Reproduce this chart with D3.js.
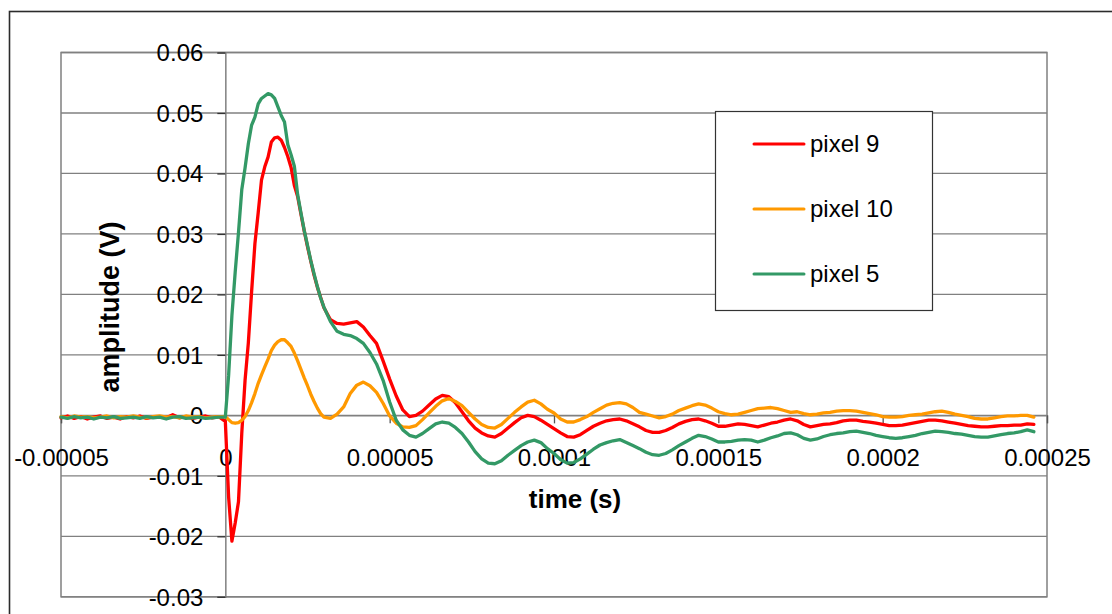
<!DOCTYPE html>
<html>
<head>
<meta charset="utf-8">
<script src="https://cdn.jsdelivr.net/npm/d3@7/dist/d3.min.js"></script>
<style>
  html, body { margin: 0; padding: 0; background: #fff; }
  svg { display: block; font-family: "Liberation Sans", Arial, sans-serif; }
</style>
</head>
<body>
<svg id="chart" width="1112" height="614"></svg>
<script>
// Sample times in microseconds
const timeUs = [
  -50,-48,-46,-44,-42,-40,-38,-36,-34,-32,-30,-28,-26,-24,-22,-20,-18,-16,-14,-12,-10,-8,-6,-4,-2,
  0,1,2,3,4,5,6,7,8,9,10,11,12,13,14,15,16,17,18,19,20,21,22,23,24,25,26,27,28,29,30,
  32,34,36,38,40,42,44,46,48,50,
  52,54,56,58,60,62,64,66,68,70,
  72,74,76,78,80,82,84,86,88,90,
  92,94,96,98,100,102,104,106,108,110,
  112,114,116,118,120,122,124,126,128,130,
  132,134,136,138,140,142,144,146,148,150,
  152,154,156,158,160,162,164,166,168,170,
  172,174,176,178,180,182,184,186,188,190,
  192,194,196,198,200,202,204,206,208,210,
  212,214,216,218,220,222,224,226,228,230,
  232,234,236,238,240,242,244,246
];

// Amplitude (V) of each pixel at the sample times above
const pixel9 = [
  -0.0004,-0.0001,-0.0005,-0.0002,-0.0006,-0.0003,-0.0001,-0.0005,-0.0003,-0.0006,
  -0.0002,-0.0004,-0.0001,-0.0005,-0.0003,-0.0002,-0.0004,0.0001,-0.0004,-0.0002,
  -0.0005,-0.0003,-0.0001,-0.0004,-0.0002,
  -0.001,-0.0135,-0.0208,-0.0178,-0.0143,-0.003,0.0058,0.012,0.0205,0.0284,
  0.0335,0.0389,0.0411,0.0427,0.0452,0.0459,0.046,0.0455,0.0443,0.0428,
  0.041,0.038,0.0362,0.0333,0.0305,0.0279,0.0255,0.0232,0.0212,0.0195,0.0178,
  0.0158,0.0152,0.0151,0.0153,0.0155,0.0146,0.0132,0.0119,0.009,0.006,
  0.0032,0.0009,-0.0002,0,0.0007,0.0017,0.0027,0.0033,0.0031,0.0021,
  0.0006,-0.0009,-0.0021,-0.0029,-0.0034,-0.0036,-0.003,-0.0021,-0.0012,-0.0004,
  0,-0.0002,-0.0008,-0.0015,-0.0022,-0.0029,-0.0035,-0.0036,-0.0032,-0.0025,
  -0.0018,-0.0013,-0.0009,-0.0007,-0.0006,-0.0009,-0.0014,-0.0019,-0.0025,-0.0028,
  -0.0028,-0.0025,-0.002,-0.0014,-0.001,-0.0007,-0.0006,-0.0009,-0.0013,-0.0018,
  -0.0018,-0.0016,-0.0014,-0.0015,-0.0017,-0.0019,-0.0016,-0.0013,-0.0011,-0.0008,
  -0.0006,-0.0009,-0.0015,-0.0019,-0.0017,-0.0015,-0.0014,-0.0012,-0.0009,-0.0008,
  -0.0008,-0.001,-0.0011,-0.0013,-0.0015,-0.0017,-0.0017,-0.0016,-0.0014,-0.0012,
  -0.001,-0.0008,-0.0008,-0.0009,-0.0011,-0.0013,-0.0015,-0.0017,-0.0018,-0.0019,
  -0.0019,-0.0018,-0.0017,-0.0017,-0.0016,-0.0016,-0.0014,-0.0015
];
const pixel10 = [
  -0.0002,-0.0004,-0.0001,-0.0003,-0.0002,-0.0004,-0.0003,-0.0001,-0.0004,-0.0002,
  -0.0003,-0.0001,-0.0003,-0.0004,-0.0002,-0.0001,-0.0003,-0.0002,-0.0004,-0.0001,
  -0.0003,-0.0002,-0.0004,-0.0003,-0.0002,
  -0.0002,-0.0007,-0.0012,-0.0013,-0.0012,-0.0008,-0.0002,0.0008,0.0021,0.0036,
  0.0053,0.0067,0.008,0.0093,0.0107,0.0116,0.0122,0.0125,0.0125,0.012,
  0.0114,0.0103,0.009,0.0076,0.0062,0.0049,0.0035,0.0023,0.0012,0.0003,-0.0003,
  -0.0005,0.0002,0.0014,0.0036,0.005,0.0055,0.0049,0.0038,0.002,-0.0001,
  -0.0013,-0.0019,-0.002,-0.0017,-0.0007,0.0004,0.0015,0.0024,0.0028,0.0023,
  0.0016,0.0005,-0.0006,-0.0015,-0.002,-0.0021,-0.0015,-0.0005,0.0005,0.0014,
  0.0022,0.0025,0.0019,0.001,0.0004,-0.0006,-0.0011,-0.0011,-0.0007,-0.0002,
  0.0005,0.0011,0.0017,0.002,0.0021,0.0019,0.0013,0.0005,0.0002,-0.0001,
  -0.0004,-0.0002,0.0002,0.0008,0.0012,0.0016,0.0019,0.0017,0.0012,0.0006,
  0.0003,0.0001,0.0002,0.0005,0.0008,0.0011,0.0012,0.0013,0.0011,0.0008,
  0.0005,0.0006,0.0003,0.0001,0.0002,0.0004,0.0005,0.0007,0.0008,0.0008,
  0.0007,0.0005,0.0003,0.0001,-0.0002,-0.0003,-0.0003,-0.0002,0,0.0001,
  0.0002,0.0004,0.0006,0.0007,0.0005,0.0002,0,-0.0002,-0.0005,-0.0006,
  -0.0006,-0.0004,-0.0002,-0.0001,-0.0001,0,0,-0.0003
];
const pixel5 = [
  -0.0003,-0.0005,-0.0002,-0.0004,-0.0003,-0.0006,-0.0003,-0.0004,-0.0002,-0.0005,
  -0.0004,-0.0003,-0.0005,-0.0002,-0.0004,-0.0003,-0.0006,-0.0003,-0.0002,-0.0005,
  -0.0004,-0.0003,-0.0005,-0.0004,-0.0003,
  -0.0003,0.0066,0.0165,0.0237,0.0302,0.0373,0.0409,0.0449,0.048,0.0493,
  0.0515,0.0524,0.0528,0.0532,0.053,0.0524,0.051,0.0496,0.0485,0.0448,
  0.0431,0.0412,0.0365,0.0335,0.0306,0.0281,0.0256,0.0234,0.0213,0.0194,0.0179,
  0.0155,0.0139,0.0134,0.0132,0.0127,0.0119,0.0104,0.0085,0.0058,0.0022,
  -0.0008,-0.0024,-0.0033,-0.0036,-0.003,-0.0022,-0.0014,-0.0011,-0.0013,-0.002,
  -0.003,-0.0044,-0.006,-0.0072,-0.0079,-0.008,-0.0075,-0.0066,-0.0058,-0.005,
  -0.0044,-0.0041,-0.0045,-0.0055,-0.0063,-0.0073,-0.0079,-0.0078,-0.0072,-0.0064,
  -0.0056,-0.0049,-0.0045,-0.0042,-0.004,-0.0045,-0.005,-0.0055,-0.0061,-0.0065,
  -0.0066,-0.0063,-0.0057,-0.005,-0.0044,-0.0038,-0.0033,-0.0035,-0.0039,-0.0044,
  -0.0044,-0.0043,-0.0041,-0.004,-0.0041,-0.0044,-0.0041,-0.0037,-0.0034,-0.003,
  -0.0029,-0.0032,-0.0038,-0.0041,-0.0039,-0.0035,-0.0032,-0.003,-0.0029,-0.0027,
  -0.0026,-0.0028,-0.003,-0.0033,-0.0035,-0.0037,-0.0038,-0.0037,-0.0035,-0.0033,
  -0.003,-0.0028,-0.0026,-0.0027,-0.0028,-0.003,-0.0031,-0.0033,-0.0035,-0.0036,
  -0.0036,-0.0034,-0.0032,-0.003,-0.0029,-0.0027,-0.0024,-0.0027
];

const seriesNames = ["pixel 9", "pixel 10", "pixel 5"];
const seriesColors = ["#ff0000", "#ff9900", "#339966"];

const xTicks = [-0.00005, 0, 0.00005, 0.0001, 0.00015, 0.0002, 0.00025];
const xTickLabels = ["-0.00005", "0", "0.00005", "0.0001", "0.00015", "0.0002", "0.00025"];
const yTicks = [-0.03, -0.02, -0.01, 0, 0.01, 0.02, 0.03, 0.04, 0.05, 0.06];
const yTickLabels = ["-0.03", "-0.02", "-0.01", "0", "0.01", "0.02", "0.03", "0.04", "0.05", "0.06"];

const xTitle = "time (s)";
const yTitle = "amplitude (V)";

// ---- layout ----
const svg = d3.select("#chart");
const plot = { left: 61, right: 1047, top: 52.5, bottom: 596.8 };
const grid = "#808080";

const x = d3.scaleLinear().domain([-0.00005, 0.00025]).range([plot.left, plot.right]);
const y = d3.scaleLinear().domain([-0.03, 0.06]).range([plot.bottom, plot.top]);

// outer chart frame (runs past the visible page on the right and bottom)
svg.append("rect")
  .attr("x", 9.5).attr("y", 11.5).attr("width", 1200).attr("height", 700)
  .attr("fill", "#fff").attr("stroke", "#2b2b2b").attr("stroke-width", 1.6);

// horizontal gridlines
svg.append("g")
  .selectAll("line")
  .data(yTicks)
  .join("line")
  .attr("x1", plot.left).attr("x2", plot.right)
  .attr("y1", d => y(d)).attr("y2", d => y(d))
  .attr("stroke", grid).attr("stroke-width", 1.3);

// plot area border
svg.append("rect")
  .attr("x", plot.left).attr("y", plot.top)
  .attr("width", plot.right - plot.left).attr("height", plot.bottom - plot.top)
  .attr("fill", "none").attr("stroke", grid).attr("stroke-width", 1.5);

// y axis crossing at t = 0
const yAxis = d3.axisLeft(y)
  .tickValues(yTicks)
  .tickFormat((d, i) => yTickLabels[i])
  .tickSize(8)
  .tickPadding(14);
const gy = svg.append("g").attr("transform", `translate(${x(0)},0)`).call(yAxis);
gy.select(".domain").attr("stroke", grid).attr("stroke-width", 1.5);
gy.selectAll(".tick line").attr("stroke", "#333").attr("stroke-width", 1.3);
gy.selectAll(".tick text")
  .attr("font-size", 24).attr("fill", "#000")
  .attr("font-family", "Liberation Sans, Arial, sans-serif")
  .attr("dy", "0.35em");

// x axis crossing at amplitude 0
const xAxis = d3.axisBottom(x)
  .tickValues(xTicks)
  .tickFormat((d, i) => xTickLabels[i])
  .tickSize(8)
  .tickPadding(26);
const gx = svg.append("g").attr("transform", `translate(0,${y(0)})`).call(xAxis);
gx.select(".domain").attr("stroke", grid).attr("stroke-width", 1.3);
gx.selectAll(".tick line").attr("stroke", "#555").attr("stroke-width", 1.3);
gx.selectAll(".tick text")
  .attr("font-size", 24).attr("fill", "#000")
  .attr("font-family", "Liberation Sans, Arial, sans-serif");

// data traces
const seriesValues = [pixel9, pixel10, pixel5];
const line = d3.line()
  .x(d => x(d[0] * 1e-6))
  .y(d => y(d[1]));

svg.append("g")
  .selectAll("path")
  .data(seriesValues)
  .join("path")
  .attr("d", vals => line(timeUs.map((t, i) => [t, vals[i]])))
  .attr("fill", "none")
  .attr("stroke", (d, i) => seriesColors[i])
  .attr("stroke-width", 3.3)
  .attr("stroke-linejoin", "round")
  .attr("stroke-linecap", "round");

// axis titles
svg.append("text")
  .attr("x", 575).attr("y", 508)
  .attr("text-anchor", "middle")
  .attr("font-size", 26).attr("font-weight", "bold")
  .text(xTitle);

svg.append("text")
  .attr("transform", "translate(110,307) rotate(-90)")
  .attr("text-anchor", "middle")
  .attr("dy", "0.35em")
  .attr("font-size", 27).attr("font-weight", "bold")
  .text(yTitle);

// legend
const legend = svg.append("g");
legend.append("rect")
  .attr("x", 715.5).attr("y", 111.5).attr("width", 217).attr("height", 199)
  .attr("fill", "#fff").attr("stroke", "#333").attr("stroke-width", 1.2);

const rowY = [144, 209, 274];
const rows = legend.selectAll("g.row")
  .data(seriesNames)
  .join("g")
  .attr("class", "row")
  .attr("transform", (d, i) => `translate(0,${rowY[i]})`);
rows.append("line")
  .attr("x1", 754).attr("x2", 804)
  .attr("stroke", (d, i) => seriesColors[i])
  .attr("stroke-width", 3)
  .attr("stroke-linecap", "round");
rows.append("text")
  .attr("x", 810).attr("dy", "0.35em")
  .attr("font-size", 24)
  .text(d => d);
</script>
</body>
</html>
